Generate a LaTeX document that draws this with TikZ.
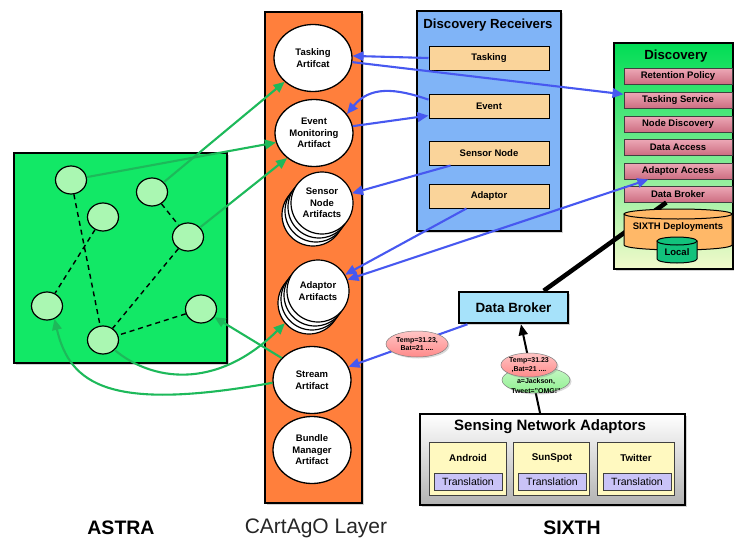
\documentclass[tikz,border=0pt]{standalone}
\usepackage{fontspec}
\setmainfont{Liberation Sans}
\usetikzlibrary{arrows.meta,shapes.geometric,shadows}

\definecolor{astragreen}{HTML}{12E866}
\definecolor{agentgreen}{HTML}{AAF7B2}
\definecolor{cartagoorange}{HTML}{FF7F3C}
\definecolor{recvblue}{HTML}{80B4F7}
\definecolor{recvfill}{HTML}{FAD49A}
\definecolor{discgreen}{HTML}{00DD55}
\definecolor{discyellow}{HTML}{F2FACB}
\definecolor{discpink}{HTML}{E47A90}
\definecolor{deploy}{HTML}{FFB868}
\definecolor{localgreen}{HTML}{12C27C}
\definecolor{brokerblue}{HTML}{A6E2FA}
\definecolor{adaptyellow}{HTML}{FFF9C0}
\definecolor{translav}{HTML}{C9C3F7}
\definecolor{arrgreen}{HTML}{1DB95A}
\definecolor{arrblue}{HTML}{4758F0}
\definecolor{msgred}{HTML}{FF8A8A}
\definecolor{msggreen}{HTML}{8FF08F}

% cilindro: centro x, radio x, arriba, abajo, radio y, color
\newcommand{\drawcyl}[6]{%
  \filldraw[fill=#6, line width=1pt] (#1-#2,#3) -- (#1-#2,#4)
    arc[start angle=180, end angle=360, x radius=#2pt, y radius=#5pt] -- (#1+#2,#3) -- cycle;
  \filldraw[fill=#6, line width=1pt] (#1,#3) ellipse[x radius=#2pt, y radius=#5pt];
}

\tikzset{
  box/.style={draw, line width=2pt, drop shadow={opacity=.35,shadow xshift=2pt,shadow yshift=-2pt}},
  agent/.style={ellipse, draw, line width=1.2pt, fill=agentgreen, minimum width=31pt, minimum height=28pt, inner sep=0pt},
  agentlink/.style={line width=1.4pt, dash pattern=on 5pt off 4pt},
  artifact/.style={ellipse, draw, line width=1.3pt, fill=white, minimum width=78pt, minimum height=67pt, inner sep=0pt, align=center, font=\bfseries\fontsize{9.5}{11.5}\selectfont},
  stackart/.style={circle, draw, line width=1.2pt, fill=white, minimum size=62pt, inner sep=0pt, align=center, font=\bfseries\fontsize{9.5}{11.5}\selectfont},
  receiver/.style={draw, line width=1pt, fill=recvfill, minimum width=120pt, minimum height=24pt, inner sep=0pt, font=\bfseries\fontsize{9.5}{11}\selectfont},
  service/.style={draw=black!75, line width=1pt, top color=discpink!65!white, bottom color=discpink!90!black, minimum width=108pt, minimum height=16pt, inner sep=0pt, font=\bfseries\fontsize{9.5}{11}\selectfont},
  panel/.style={draw=black!75, line width=1pt, fill=adaptyellow, minimum width=77pt, minimum height=53pt, inner sep=0pt},
  paneltext/.style={font=\bfseries\fontsize{9.8}{11}\selectfont},
  transl/.style={draw=black!75, line width=.8pt, fill=translav, minimum width=68pt, minimum height=17pt, inner sep=0pt, font=\fontsize{10.5}{12}\selectfont},
  title/.style={font=\bfseries\fontsize{13.2}{15}\selectfont},
  msg/.style={ellipse, draw=black!50, line width=.5pt, inner sep=0pt, align=center, font=\bfseries\fontsize{7}{8.5}\selectfont, drop shadow={opacity=.3,shadow xshift=1.5pt,shadow yshift=-1.5pt}},
  layername/.style={font=\bfseries\fontsize{19.5}{22}\selectfont},
  ga/.style={draw=arrgreen, line width=2.1pt, -{Triangle[length=11pt,width=9.5pt]}},
  ba/.style={draw=arrblue, line width=2.1pt, -{Triangle[length=11pt,width=9.5pt]}},
}

\begin{document}
\begin{tikzpicture}[x=1pt, y=-1pt]
    \useasboundingbox (0,0) rectangle (734,541);

    % ASTRA
    \draw[box, fill=astragreen] (14,153) rectangle (227,363);
    \node[agent] (a1) at (71,180) {};
    \node[agent] (a2) at (152,192) {};
    \node[agent] (a3) at (103,217) {};
    \node[agent] (a4) at (188,237) {};
    \node[agent] (a5) at (47,306) {};
    \node[agent] (a6) at (201,309) {};
    \node[agent] (a7) at (103,340) {};
    \draw[agentlink] (a1) -- (a7);
    \draw[agentlink] (a3) -- (a5);
    \draw[agentlink] (a2) -- (a4);
    \draw[agentlink] (a4) -- (a7);
    \draw[agentlink] (a6) -- (a7);

    % CArtAgO
    \draw[box, line width=2.5pt, fill=cartagoorange] (265,12) rectangle (362,503);
    \node[artifact] (task) at (313,58) {Tasking\\Artifcat};
    \node[artifact] (event) at (314,133) {Event\\Monitoring\\Artifact};
    \node[stackart] (sensora) at (313,215) {};
    \node[stackart] (sensorb) at (316,211) {};
    \node[stackart] (sensorc) at (319,207) {};
    \node[stackart] (sensor) at (322,203) {Sensor\\Node\\Artifacts};
    \node[stackart] (adapta) at (309,303) {};
    \node[stackart] (adaptb) at (312,299) {};
    \node[stackart] (adaptc) at (315,295) {};
    \node[stackart] (adapt) at (318,291) {Adaptor\\Artifacts};
    \node[artifact] (stream) at (312,380) {Stream\\Artifact};
    \node[artifact] (bundle) at (312,450) {Bundle\\Manager\\Artifact};

    % Discovery Receivers
    \draw[box, fill=recvblue] (417,11) rectangle (561,231);
    \node[title] (recvtitle) at (488,25) {Discovery Receivers};
    \node[receiver] (rtask) at (489,58) {Tasking};
    \node[receiver] (revent) at (489,106) {Event};
    \node[receiver] (rsensor) at (489,153) {Sensor Node};
    \node[receiver] (radapt) at (489,196) {Adaptor};

    % Discovery
    \draw[box, top color=discgreen, bottom color=discyellow] (614,43) rectangle (733,269);
    \node[title] (disctitle) at (676,56) {Discovery};
    \node[service] (retention) at (678,76) {Retention Policy};
    \node[service] (tservice) at (678,100) {Tasking Service};
    \node[service] (ndisc) at (678,124) {Node Discovery};
    \node[service] (daccess) at (678,147) {Data Access};
    \node[service] (aaccess) at (678,171) {Adaptor Access};
    \node[service] (dbroker) at (678,194) {Data Broker};

    % Data Broker
    \node[box, line width=2.5pt, fill=brokerblue, minimum width=109pt, minimum height=31pt, font=\bfseries\fontsize{13.4}{15}\selectfont] (broker) at (513.5,307.5) {Data Broker};
    \draw[line width=4.5pt] (broker.29) -- (dbroker.216);

    % cilindros
    \drawcyl{678}{54}{214}{245}{5}{deploy}
    \node[font=\bfseries\fontsize{9.5}{11}\selectfont] (deploytext) at (678,227) {SIXTH Deployments};
    \drawcyl{677}{20}{241}{259}{4}{localgreen}
    \node[font=\bfseries\fontsize{9.5}{11}\selectfont] (localtext) at (677,252) {Local};

    % Sensing Network Adaptors
    \node[box, top color=white, bottom color=black!30, minimum width=265pt, minimum height=91pt] (sna) at (552.5,459.5) {};
    \node[font=\bfseries\fontsize{15}{17}\selectfont] (snatitle) at (550,427) {Sensing Network Adaptors};
    \node[panel] (android) at (468,468.5) {};
    \node[paneltext] (androidname) at (468,458) {Android};
    \node[transl] (androidtr) at (468,482) {Translation};
    \node[panel, minimum width=76pt] (sunspot) at (551,468.5) {};
    \node[paneltext] (sunspotname) at (552,458) {SunSpot};
    \node[transl] (sunspottr) at (552,482) {Translation};
    \node[panel] (twitter) at (635.5,468.5) {};
    \node[paneltext] (twittername) at (636,458) {Twitter};
    \node[transl] (twittertr) at (637,482) {Translation};

    % flechas verdes
    \draw[ga] (a2) -- (task.220);
    \draw[ga] (a1) -- (event.194);
    \draw[ga] (a4) -- (event.223);
    \draw[ga] (a7) .. controls (150,380) and (215,392) .. (adapta.220);
    \draw[ga] (stream.144) -- (a6);
    \draw[ga] (stream.184) .. controls (110,412) and (70,385) .. (a5.300);

    % flechas azules
    \draw[ba] (rtask.west) -- (task.3);
    \draw[ba] (task.-6) -- (tservice.174);
    \draw[ba] (revent.174) .. controls (395,88) and (370,86) .. (event.30);
    \draw[ba] (event.10) -- (revent.189);
    \draw[ba] (rsensor.198) -- (sensor.18);
    \draw[ba] (radapt.209) -- (adapt.31);
    \draw[ba, {Triangle[length=11pt,width=9.5pt]}-{Triangle[length=11pt,width=9.5pt]}] (adapt.21) -- (aaccess.196);
    \draw[ba] (broker.200) -- (stream.20);
    \draw[line width=2pt, -{Triangle[length=11pt,width=9pt]}] (sna.105) -- (broker.294);

    % mensajes
    \node[msg, top color=msgred!50!white, bottom color=msgred, minimum width=62pt, minimum height=26pt] (msgone) at (417,344) {Temp=31.23,\\Bat=21 ....};
    \node[msg, top color=msggreen!50!white, bottom color=msggreen, minimum width=68pt, minimum height=26pt] (msgtweet) at (536,380) {};
    \node[align=center, font=\bfseries\fontsize{7}{9.5}\selectfont] (tweettext) at (536,386) {a=Jackson,\\Tweet="OMG!"};
    \node[msg, top color=msgred!50!white, bottom color=msgred, minimum width=56pt, minimum height=24pt] (msgtwo) at (529,365) {Temp=31.23\\,Bat=21 ....};

    % Etiquetas
    \node[layername] (astralabel) at (121,528) {ASTRA};
    \node[font=\fontsize{21}{24}\selectfont, text=black!85] (cartagolabel) at (316,528) {CArtAgO Layer};
    \node[layername] (sixthlabel) at (572,528) {SIXTH};
\end{tikzpicture}
\end{document}
